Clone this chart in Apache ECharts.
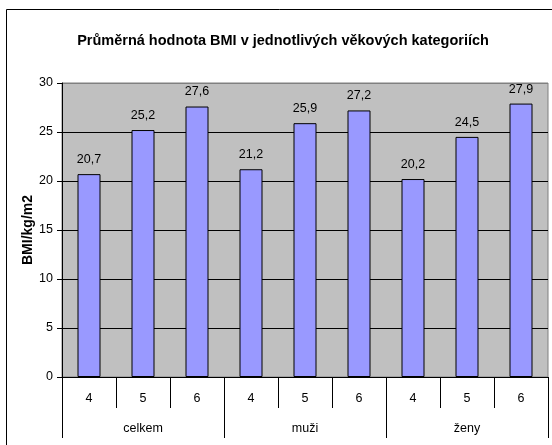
<!DOCTYPE html>
<html>
<head>
<meta charset="utf-8">
<script src="https://cdn.jsdelivr.net/npm/echarts@6/dist/echarts.min.js"></script>
<style>
  html, body { margin: 0; padding: 0; background: #fff; }
  #chart { width: 552px; height: 445px; }
</style>
</head>
<body>
<div id="chart"></div>
<script>
// věkové kategorie uvnitř každé skupiny
var ageLabels = ["4", "5", "6", "4", "5", "6", "4", "5", "6"];
var groupLabels = ["celkem", "muži", "ženy"];
var bmiValues = [20.7, 25.2, 27.6, 21.2, 25.9, 27.2, 20.2, 24.5, 27.9];
var yTicks = [0, 5, 10, 15, 20, 25, 30];

var chart = echarts.init(document.getElementById("chart"));
var font = "'Liberation Sans', Arial, sans-serif";

chart.setOption({
  backgroundColor: "#fff",
  animation: false,
  textStyle: { fontFamily: font },
  title: {
    text: "Průměrná hodnota BMI v jednotlivých věkových kategoriích",
    left: 278,
    textAlign: "center",
    top: 28,
    textStyle: { fontSize: 14.5, fontWeight: "bold", color: "#000", fontFamily: font }
  },
  graphic: [
    {
      type: "rect",
      shape: { x: 6.5, y: 9.5, width: 560, height: 450 },
      style: { fill: null, stroke: "#000", lineWidth: 1 },
      silent: true,
      z: 0
    }
  ],
  grid: {
    left: 62,
    right: 4,
    top: 83,
    bottom: 68,
    show: true,
    backgroundColor: "#C0C0C0",
    borderColor: "#808080",
    borderWidth: 1
  },
  xAxis: [
    {
      type: "category",
      data: ageLabels,
      position: "bottom",
      axisLine: { show: true, lineStyle: { color: "#000", width: 1 } },
      axisTick: { show: true, interval: 0, length: 31, lineStyle: { color: "#000" } },
      axisLabel: { interval: 0, margin: 15, fontSize: 12.5, color: "#000", fontFamily: font },
      splitLine: { show: false }
    },
    {
      type: "category",
      data: groupLabels,
      position: "bottom",
      offset: 0,
      axisLine: { show: false },
      axisTick: { show: true, interval: 0, length: 61, lineStyle: { color: "#000" } },
      axisLabel: { interval: 0, margin: 45, fontSize: 12.5, color: "#000", fontFamily: font },
      splitLine: { show: false }
    }
  ],
  yAxis: {
    type: "value",
    min: yTicks[0],
    max: yTicks[yTicks.length - 1],
    interval: 5,
    name: "BMI/kg/m2",
    nameLocation: "middle",
    nameRotate: 90,
    nameGap: 27,
    nameMoveOverlap: false,
    nameTextStyle: { fontSize: 14, fontWeight: "bold", color: "#000", fontFamily: font },
    axisLine: { show: true, lineStyle: { color: "#000", width: 1 } },
    axisTick: { show: true, length: 5, lineStyle: { color: "#000" } },
    axisLabel: { fontSize: 12.5, color: "#000", margin: 9, fontFamily: font },
    splitLine: {
      show: true,
      lineStyle: { color: ["#000", "#000", "#000", "#000", "#000", "#000", "#808080"], width: 1 }
    }
  },
  series: [
    {
      type: "bar",
      xAxisIndex: 0,
      data: bmiValues,
      barWidth: 23,
      itemStyle: { color: "#9999FF", borderColor: "#000", borderWidth: 1 },
      label: {
        show: true,
        position: "top",
        distance: 8,
        fontSize: 12.5,
        color: "#000",
        fontFamily: font,
        formatter: function (p) {
          return p.value.toFixed(1).replace(".", ",");
        }
      }
    }
  ]
});
</script>
</body>
</html>
